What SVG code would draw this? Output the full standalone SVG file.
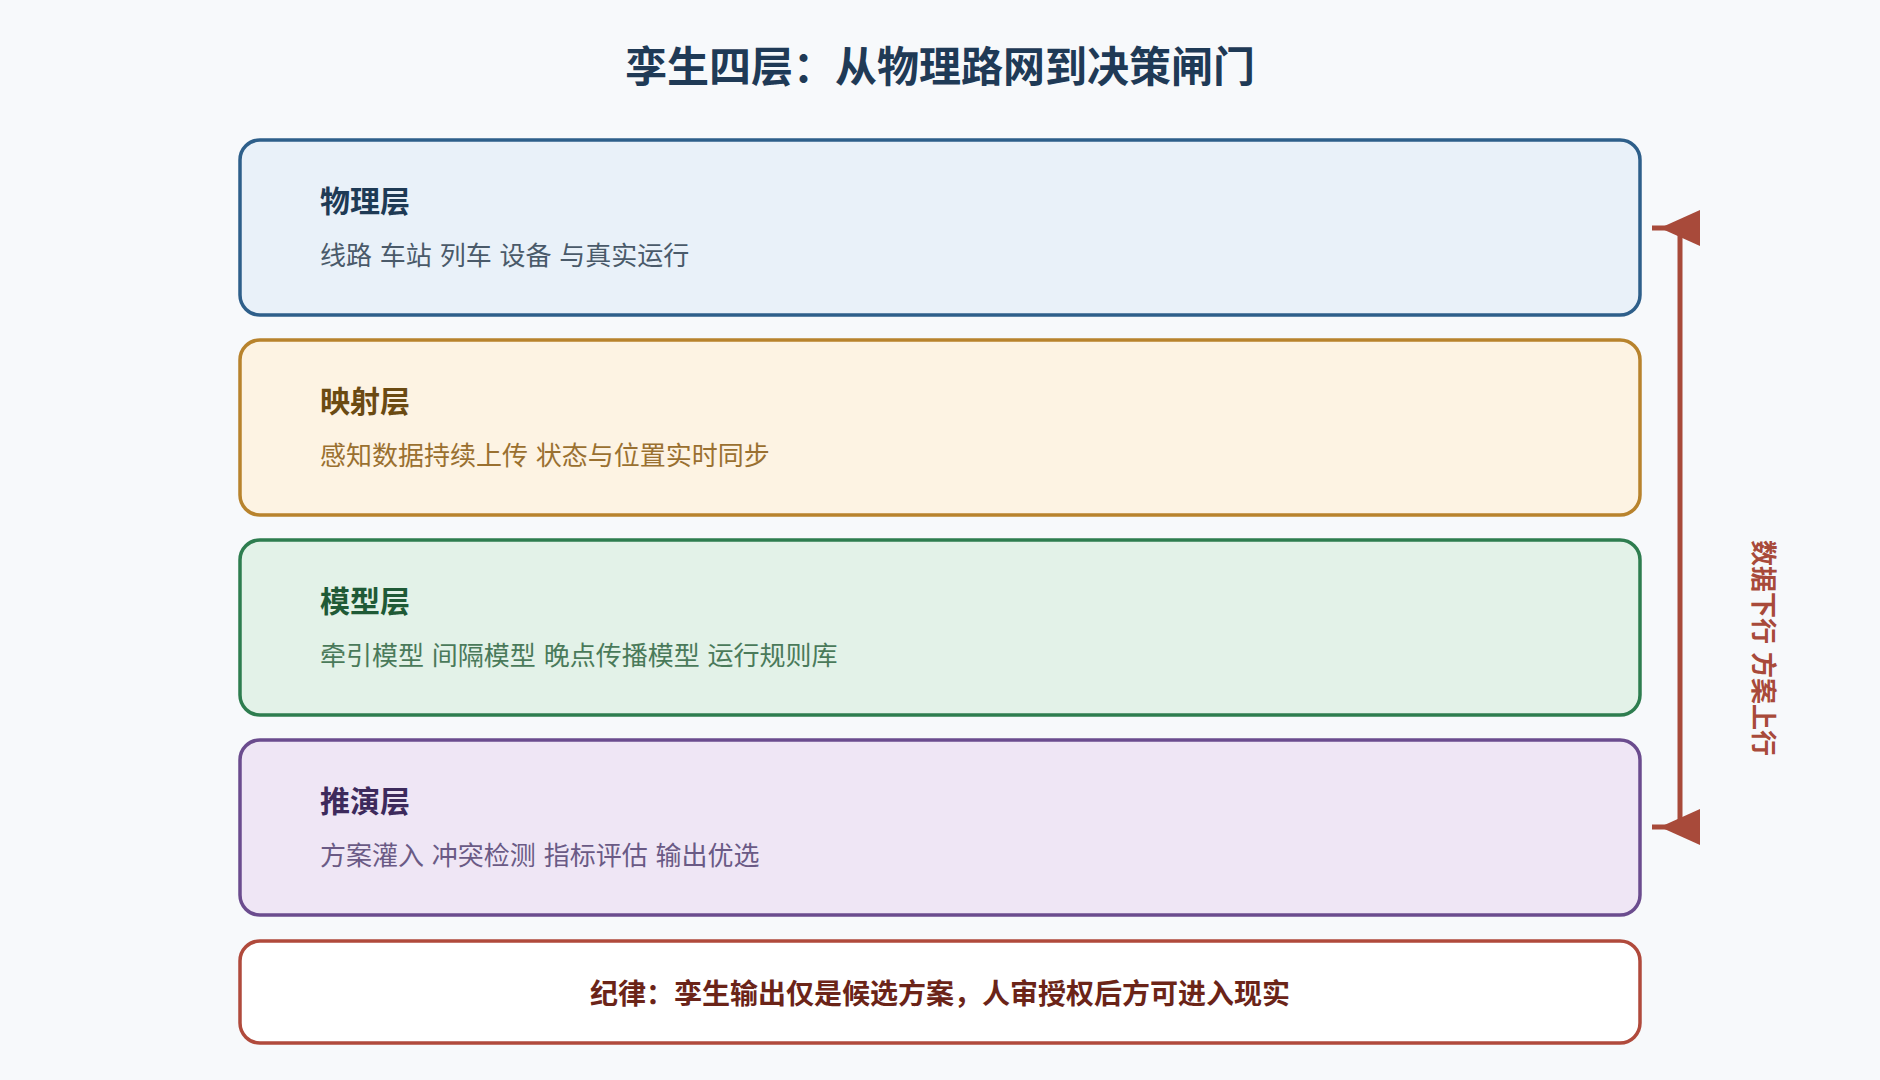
<svg xmlns="http://www.w3.org/2000/svg" width="1880" height="1080" viewBox="0 0 1880 1080">
<style>
text{font-family:"Noto Sans CJK SC","Noto Sans",sans-serif}
.title{font-size:42px;font-weight:700;fill:#1f3a56}
.box{stroke-width:3.5}
.h{font-size:30px;font-weight:700}
.s{font-size:26px;font-weight:400;word-spacing:2px}
.rule{font-size:28px;font-weight:700;fill:#6b2418}
.side{font-size:26px;font-weight:700;fill:#a84a3a}
</style>
<defs>
<marker id="ah" markerUnits="userSpaceOnUse" markerWidth="48" markerHeight="36" viewBox="0 0 48 36" refX="48" refY="18" orient="auto-start-reverse">
<path d="M0,0 L40,18 L0,36 z" fill="#a84a3a"/>
</marker>
</defs>
<rect width="1880" height="1080" fill="#f7f9fb"/>
<text class="title" x="940" y="82" text-anchor="middle">孪生四层：从物理路网到决策闸门</text>
<g id="layer-physical">
<rect class="box" x="240" y="140" width="1400" height="175" rx="20" fill="#e9f1f9" stroke="#2e5f8a"/>
<text class="h" x="320" y="212" fill="#1e3a55">物理层</text>
<text class="s" x="320" y="265" fill="#4a5a6a">线路 车站 列车 设备 与真实运行</text>
</g>
<g id="layer-mapping">
<rect class="box" x="240" y="340" width="1400" height="175" rx="20" fill="#fdf3e3" stroke="#b8832d"/>
<text class="h" x="320" y="412" fill="#6b4a12">映射层</text>
<text class="s" x="320" y="465" fill="#9a7030">感知数据持续上传 状态与位置实时同步</text>
</g>
<g id="layer-model">
<rect class="box" x="240" y="540" width="1400" height="175" rx="20" fill="#e3f2e8" stroke="#2e7d4f"/>
<text class="h" x="320" y="612" fill="#1f5a36">模型层</text>
<text class="s" x="320" y="665" fill="#4a7a5a">牵引模型 间隔模型 晚点传播模型 运行规则库</text>
</g>
<g id="layer-simulation">
<rect class="box" x="240" y="740" width="1400" height="175" rx="20" fill="#efe6f5" stroke="#6b4c8e"/>
<text class="h" x="320" y="812" fill="#3d2a5c">推演层</text>
<text class="s" x="320" y="865" fill="#6a5a85">方案灌入 冲突检测 指标评估 输出优选</text>
</g>
<g id="rule">
<rect class="box" x="240" y="941" width="1400" height="102" rx="20" fill="#ffffff" stroke="#b04a3c"/>
<text class="rule" x="940" y="1004" text-anchor="middle">纪律：孪生输出仅是候选方案，人审授权后方可进入现实</text>
</g>
<g id="connectors">
<path d="M1652,228 H1680 V827 H1652" fill="none" stroke="#a84a3a" stroke-width="5" marker-start="url(#ah)" marker-end="url(#ah)"/>
</g>
<g id="side-label">
<text class="side" transform="translate(1764,648) rotate(90)" x="0" y="10" text-anchor="middle" word-spacing="2">数据下行 方案上行</text>
</g>
</svg>
